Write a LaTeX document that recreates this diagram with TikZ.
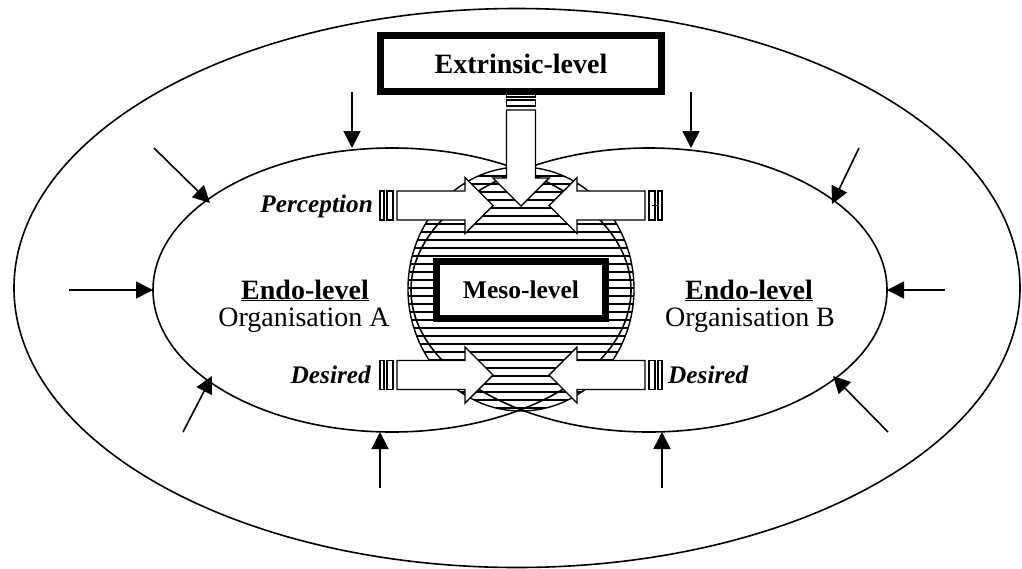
\documentclass[tikz,border=0pt]{standalone}
\usepackage{fontspec}
\setmainfont{Liberation Serif}
\usetikzlibrary{arrows.meta,patterns.meta}
\tikzset{
  ring/.style={line width=1.6pt},
  inarrow/.style={line width=1.6pt,-{Triangle[length=17pt,width=17pt]}},
  blockline/.style={line width=1.4pt,fill=white,line join=miter},
  levelbox/.style={draw,line width=7pt,fill=white,inner sep=0pt},
  bigtxt/.style={font=\fontsize{28}{30}\selectfont},
  labtxt/.style={font=\fontsize{25.3}{28}\selectfont\bfseries\itshape,inner sep=0pt},
  sarrow/.pic={
    \draw[blockline] (0,-14.5) rectangle (4,14.5);
    \draw[blockline] (7,-14.5) rectangle (13,14.5);
    \draw[blockline] (17,-14.5) -- (85,-14.5) -- (85,-28) -- (113,0) -- (85,28) -- (85,14.5) -- (17,14.5) -- cycle;
  }
}
\begin{document}
\begin{tikzpicture}[x=1pt,y=-1pt]
\useasboundingbox (0,0) rectangle (1022,568);
\fill[white] (0,0) rectangle (1022,568);

% outer environment
\draw[ring] (517,288) ellipse [x radius=503pt, y radius=279.5pt];

% meso blob (hatched)
\fill[white] (521,289) ellipse [x radius=113pt, y radius=122pt];
\fill[pattern={Lines[angle=0,distance=8pt,line width=1.1pt]}] (521,289) ellipse [x radius=113pt, y radius=122pt];
\draw[line width=1.4pt] (521,289) ellipse [x radius=113pt, y radius=122pt];

% organisations
\draw[ring] (392,290) ellipse [x radius=239pt, y radius=142pt];
\draw[ring] (649,290) ellipse [x radius=238pt, y radius=142pt];

% block arrows
\pic (pa) at (380,205.5) {sarrow};
\pic[xscale=-1] (pb) at (662,205.5) {sarrow};
\draw[line width=1.2pt] (652,205.5) -- (657,205.5);
\pic (da) at (380,375) {sarrow};
\pic[xscale=-1] (db) at (662,375) {sarrow};
\pic[rotate=-90] (ex) at (521,93) {sarrow};

% boxes
\node[levelbox,bigtxt,minimum width=281pt,minimum height=56pt] (extr) at (521,63.5) {\textbf{Extrinsic-level}};
\node[levelbox,font=\fontsize{25.5}{28}\selectfont\bfseries,minimum width=169pt,minimum height=57pt] (meso) at (521,290) {Meso-level};

% texts
\node[labtxt,anchor=east] (perc) at (373,206) {Perception};
\node[labtxt,anchor=east] (desa) at (371,375) {Desired};
\node[labtxt,anchor=west] (desb) at (668,375) {Desired};
\node[bigtxt,anchor=base,inner sep=0pt] (endoa) at (305,299) {\textbf{\underline{Endo-level}}};
\node[bigtxt,anchor=base,inner sep=0pt] (orga) at (304,326) {Organisation A};
\node[bigtxt,anchor=base,inner sep=0pt] (endob) at (749,299) {\textbf{\underline{Endo-level}}};
\node[bigtxt,anchor=base,inner sep=0pt] (orgb) at (750,326) {Organisation B};

% environmental pressures
\coordinate (s1) at (154,148);  \coordinate (e1) at (210,203);
\coordinate (s2) at (69,290);   \coordinate (e2) at (153,290);
\coordinate (s3) at (183,432);  \coordinate (e3) at (212,376);
\coordinate (s4) at (859,148);  \coordinate (e4) at (832,204);
\coordinate (s5) at (945,290);  \coordinate (e5) at (887,290);
\coordinate (s6) at (888,432);  \coordinate (e6) at (833,376);
\coordinate (s7) at (352,92);   \coordinate (e7) at (352,148);
\coordinate (s8) at (691,92);   \coordinate (e8) at (691,148);
\coordinate (s9) at (380,488);  \coordinate (e9) at (380,432);
\coordinate (s10) at (662,488); \coordinate (e10) at (662,432);
\foreach \i in {1,...,10} {\draw[inarrow] (s\i) -- (e\i);}
\end{tikzpicture}
\end{document}
